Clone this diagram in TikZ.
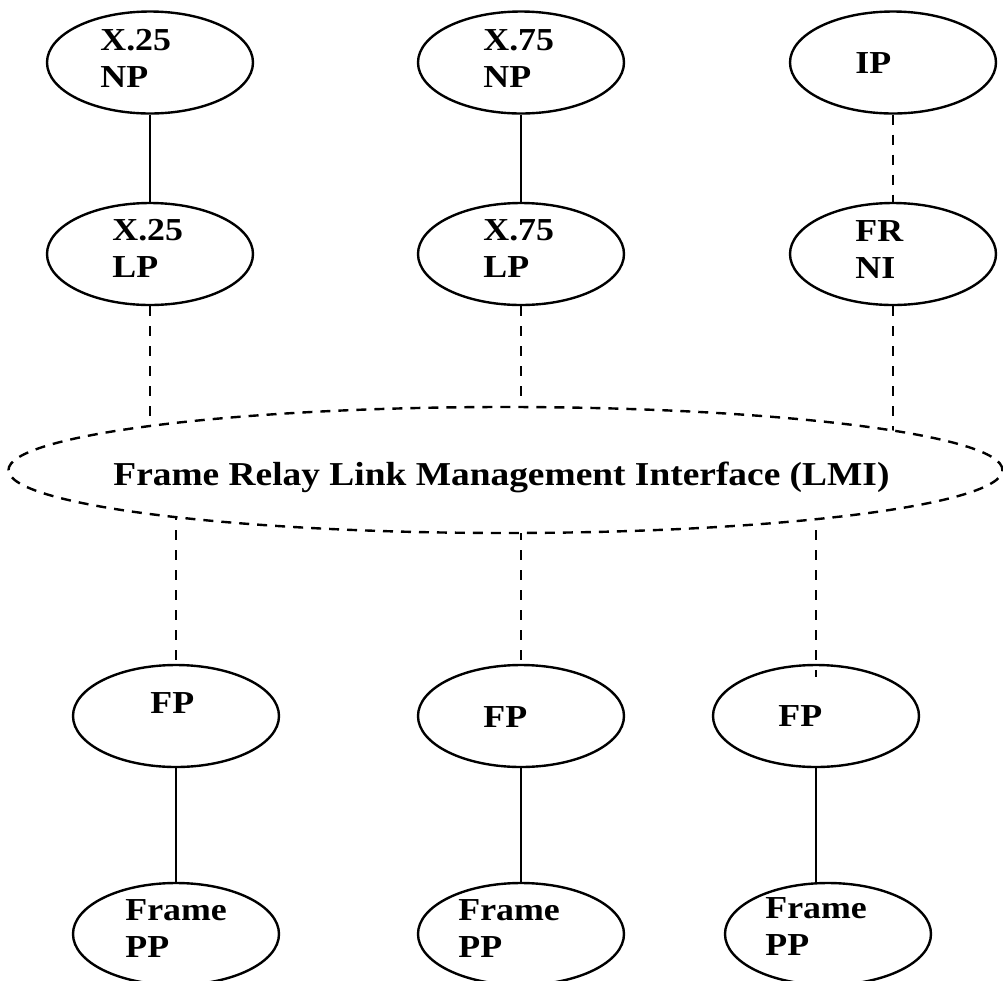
\documentclass[tikz,border=0pt]{standalone}
\usepackage{fontspec}
\newfontfamily\lblfont{Liberation Serif}[FakeStretch=1.12]
\usetikzlibrary{shapes.geometric,backgrounds}

\begin{document}
\begin{tikzpicture}[x=0.5pt, y=-0.5pt,
	blob/.style={draw, ellipse, line width=1.2pt, inner sep=0pt, minimum width=103pt, minimum height=51pt},
	lbl/.style={anchor=base west, align=left, inner sep=0pt, font=\lblfont\bfseries\fontsize{16}{18.5}\selectfont},
	solidlink/.style={line width=0.9pt},
	dashlink/.style={line width=1.1pt, dash pattern=on 5pt off 5pt}]
	\useasboundingbox (0,0) rectangle (1003,981);

	\node [blob] (x25np) at (150,62.5) {};
	\node [blob] (x75np) at (521,62.5) {};
	\node [blob] (ip) at (893,62.5) {};
	\node [lbl] (x25npt) at (100,87) {X.25\\NP};
	\node [lbl] (x75npt) at (483,87) {X.75\\NP};
	\node [lbl] (ipt) at (855,73) {IP};

	\node [blob] (x25lp) at (150,254) {};
	\node [blob] (x75lp) at (521,254) {};
	\node [blob] (frni) at (893,254) {};
	\node [lbl] (x25lpt) at (112,277) {X.25\\LP};
	\node [lbl] (x75lpt) at (483,277) {X.75\\LP};
	\node [lbl] (frnit) at (855,278) {FR\\NI};

	\node [draw, ellipse, fill=white, line width=1.2pt, dash pattern=on 5pt off 4pt, inner sep=0pt,
		minimum width=497pt, minimum height=63pt] (lmi) at (505.5,470) {};
	\node [lbl, font=\lblfont\bfseries\fontsize{16.7}{20}\selectfont] (lmit) at (113,485)
		{Frame Relay Link Management Interface (LMI)};

	\node [blob] (fp1) at (176,716) {};
	\node [blob] (fp2) at (521,716) {};
	\node [blob] (fp3) at (816,716) {};
	\node [lbl] (fp1t) at (150,713) {FP};
	\node [lbl] (fp2t) at (483,727) {FP};
	\node [lbl] (fp3t) at (778,726) {FP};

	\node [blob] (pp1) at (176,934) {};
	\node [blob] (pp2) at (521,934) {};
	\node [blob] (pp3) at (828,934) {};
	\node [lbl] (pp1t) at (125,957) {Frame\\PP};
	\node [lbl] (pp2t) at (458,957) {Frame\\PP};
	\node [lbl] (pp3t) at (765,955) {Frame\\PP};

	\draw [solidlink] (x25np.south) -- (x25lp.north);
	\draw [solidlink] (x75np.south) -- (x75lp.north);
	\draw [dashlink] (ip.south) -- (frni.north);

	\begin{scope}[on background layer]
		\draw [dashlink] (x25lp.south) -- (x25lp.south |- lmi.center);
		\draw [dashlink] (x75lp.south) -- (x75lp.south |- lmi.center);
		\draw [dashlink] (frni.south) -- (frni.south |- lmi.center);
		\draw [dashlink] (fp1.north |- lmi.center) -- (fp1.north);
		\draw [dashlink] (fp2.north |- lmi.center) -- (fp2.north);
		\draw [dashlink] (fp3.north |- lmi.center) -- ([yshift=-6.5pt]fp3.north);
	\end{scope}

	\draw [solidlink] (fp1.south) -- (pp1.north);
	\draw [solidlink] (fp2.south) -- (pp2.north);
	\draw [solidlink] (fp3.south) -- (fp3.south |- pp3.north);
\end{tikzpicture}
\end{document}
